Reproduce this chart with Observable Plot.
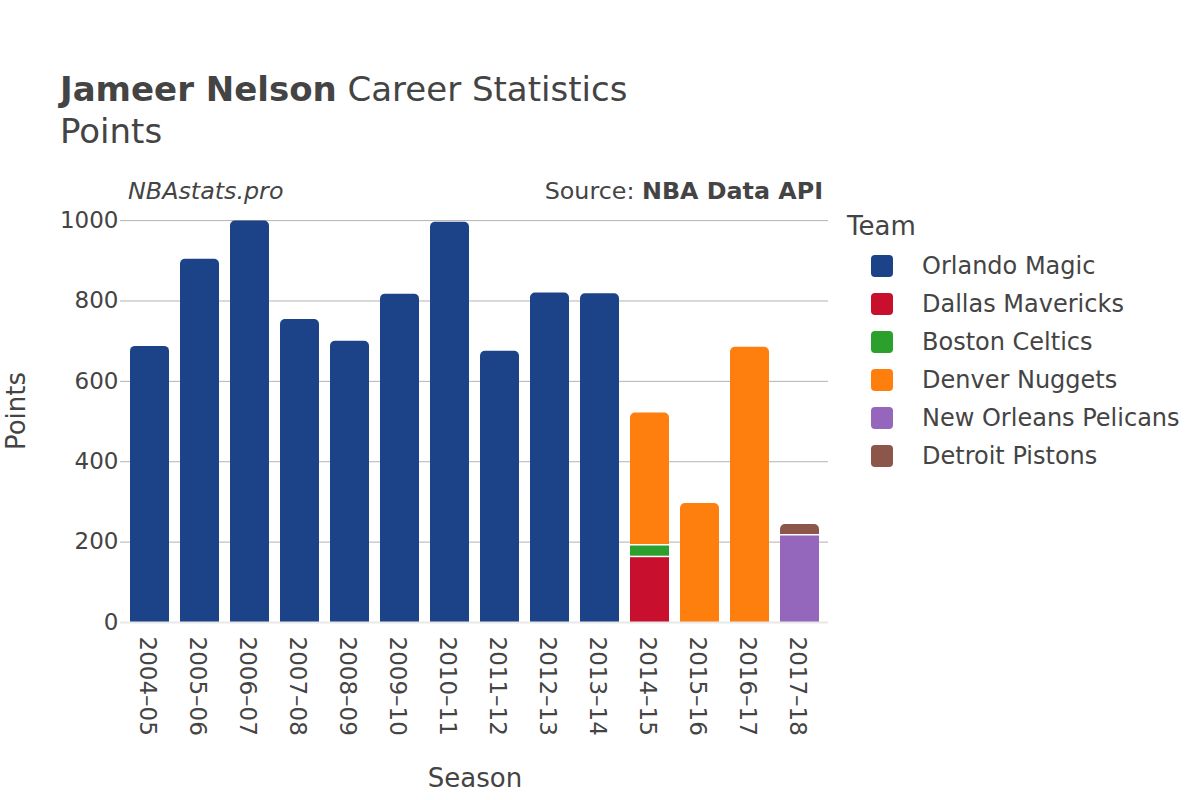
<!DOCTYPE html>
<html>
<head>
<meta charset="utf-8">
<script src="https://cdn.jsdelivr.net/npm/d3@7"></script>
<script src="https://cdn.jsdelivr.net/npm/@observablehq/plot@0.6"></script>
<style>
  body { margin: 0; background: #fff; }
  #wrap { position: relative; width: 1200px; height: 800px; overflow: hidden; background: #fff; }
  #chart, #overlay { position: absolute; left: 0; top: 0; }
  #overlay { pointer-events: none; }
</style>
</head>
<body>
<div id="wrap">
  <div id="chart"></div>
  <svg id="overlay" width="1200" height="800"></svg>
</div>
<script>
// ---- Data ----
const seasons = ["2004–05","2005–06","2006–07","2007–08","2008–09","2009–10","2010–11","2011–12","2012–13","2013–14","2014–15","2015–16","2016–17","2017–18"];
const teams = ["Orlando Magic","Dallas Mavericks","Boston Celtics","Denver Nuggets","New Orleans Pelicans","Detroit Pistons"];
const teamColors = ["#1c4388","#c8102e","#2ca02c","#ff7f0e","#9467bd","#8c564b"];
const rowSeason = ["2004–05","2005–06","2006–07","2007–08","2008–09","2009–10","2010–11","2011–12","2012–13","2013–14","2014–15","2014–15","2014–15","2015–16","2016–17","2017–18","2017–18"];
const rowTeam = ["Orlando Magic","Orlando Magic","Orlando Magic","Orlando Magic","Orlando Magic","Orlando Magic","Orlando Magic","Orlando Magic","Orlando Magic","Orlando Magic","Dallas Mavericks","Boston Celtics","Denver Nuggets","Denver Nuggets","Denver Nuggets","New Orleans Pelicans","Detroit Pistons"];
const rowPoints = [687, 904, 999, 754, 700, 817, 996, 675, 820, 818, 165, 29, 327, 296, 685, 219, 25];
const yTicks = [0, 200, 400, 600, 800, 1000];

// ---- Build stacked table (in team order per season) ----
const rows = rowSeason.map((s, i) => ({season: s, team: rowTeam[i], points: rowPoints[i]}));
const cum = new Map();
rows.forEach(r => {
  const b = cum.get(r.season) || 0;
  r.y1 = b; r.y2 = b + r.points;
  cum.set(r.season, r.y2);
});
rows.forEach(r => { r.top = r.y2 === cum.get(r.season); r.mid = r.y1 + r.points / 2; });
const lower = rows.filter(r => !r.top);
const upper = rows.filter(r => r.top);

const FONT = "DejaVu Sans, sans-serif";
const TXT = "#444";

const chart = Plot.plot({
  width: 1200,
  height: 800,
  marginLeft: 120,
  marginRight: 372,
  marginTop: 200,
  marginBottom: 178,
  style: {fontFamily: FONT, fontSize: "23px", color: TXT, background: "transparent"},
  x: {domain: seasons, paddingInner: 0.22, paddingOuter: 0.11, label: null},
  y: {domain: [0, 1050], label: null},
  color: {domain: teams, range: teamColors},
  marks: [
    Plot.gridY(yTicks.filter(d => d > 0), {stroke: "#b3b3b3", strokeOpacity: 1, strokeWidth: 1}),
    // top segment of each stack: rounded corners
    Plot.barY(upper, {x: "season", y1: "y1", y2: "y2", fill: "team", rx: 5}),
    // square off the bottom half of the top segment
    Plot.barY(upper, {x: "season", y1: "y1", y2: "mid", fill: "team"}),
    // lower segments with a thin white gap above them
    Plot.barY(lower, {x: "season", y1: "y1", y2: "y2", fill: "team", insetTop: 1.5}),
    Plot.ruleY([0], {stroke: "#e8e8e8", strokeWidth: 2}),
    Plot.axisY({ticks: yTicks, tickFormat: d => String(d), tickSize: 0, tickPadding: 2, fontSize: 23, label: null}),
    Plot.axisX({tickRotate: 90, tickSize: 0, tickPadding: 14, fontSize: 23, dx: -3, label: null})
  ]
});
document.getElementById("chart").appendChild(chart);

// ---- Text overlay: titles, source, axis titles, legend ----
const ov = d3.select("#overlay").style("font-family", FONT);

const title = ov.append("text").attr("x", 60).attr("y", 101).attr("fill", TXT).style("font-size", "34px");
title.append("tspan").attr("font-weight", "bold").text("Jameer Nelson");
title.append("tspan").text(" Career Statistics");
ov.append("text").attr("x", 60).attr("y", 143).attr("fill", TXT).style("font-size", "34px").text("Points");

ov.append("text").attr("x", 128).attr("y", 199).attr("fill", TXT).style("font-size", "23.8px").style("font-style", "italic").text("NBAstats.pro");
const src = ov.append("text").attr("x", 823).attr("y", 199).attr("fill", TXT).attr("text-anchor", "end").style("font-size", "23.8px");
src.append("tspan").text("Source: ");
src.append("tspan").attr("font-weight", "bold").text("NBA Data API");

ov.append("text").attr("transform", "translate(25,411) rotate(-90)").attr("text-anchor", "middle")
  .attr("fill", TXT).style("font-size", "26px").text("Points");
ov.append("text").attr("x", 475).attr("y", 787).attr("text-anchor", "middle")
  .attr("fill", TXT).style("font-size", "26px").text("Season");

ov.append("text").attr("x", 847).attr("y", 235).attr("fill", TXT).style("font-size", "26px").text("Team");
const leg = ov.selectAll("g.item").data(teams).join("g").attr("class", "item")
  .attr("transform", (d, i) => `translate(0,${266 + i * 38})`);
leg.append("rect").attr("x", 871).attr("y", -11).attr("width", 22).attr("height", 22).attr("rx", 4)
  .attr("fill", (d, i) => teamColors[i]);
leg.append("text").attr("x", 922).attr("y", 0).attr("dy", "0.35em").attr("fill", TXT).style("font-size", "24px").text(d => d);
</script>
</body>
</html>
